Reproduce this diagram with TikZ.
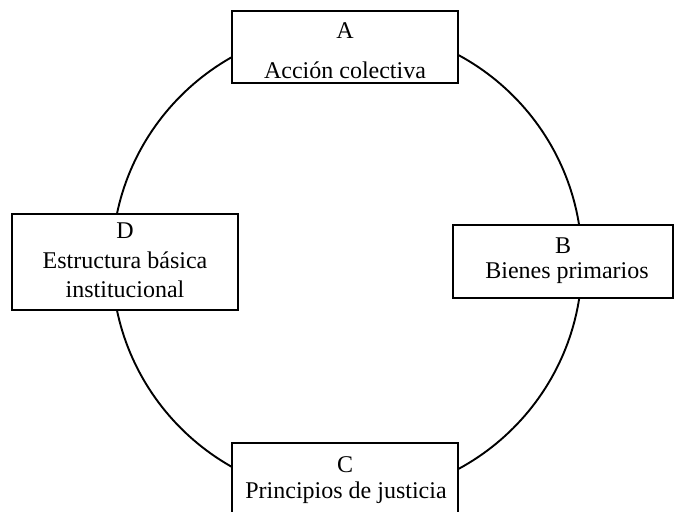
\documentclass[tikz,border=0pt]{standalone}
\usepackage{fontspec}
\setmainfont{Liberation Serif}
\begin{document}
\begin{tikzpicture}[x=1pt,y=-1pt,
  box/.style={draw, line width=2.8pt, fill=white, inner sep=0pt},
  lbl/.style={anchor=base, inner sep=0pt, font=\fontsize{24}{28}\selectfont}]
\useasboundingbox (0,0) rectangle (674,511);
\clip (0,0) rectangle (674,511);
\draw[line width=1.9pt] (347,262) circle [radius=235pt];
\node[box, minimum width=226pt, minimum height=72pt] (A) at (345,47) {};
\node[box, minimum width=220pt, minimum height=73pt] (B) at (563,261.5) {};
\node[box, minimum width=226pt, minimum height=74pt] (C) at (345,480) {};
\node[box, minimum width=226pt, minimum height=96pt] (D) at (125,262) {};
\node[lbl] (A1) at (345,38.5) {A};
\node[lbl] (A2) at (345,78) {Acción colectiva};
\node[lbl] (B1) at (563,253) {B};
\node[lbl] (B2) at (567,278) {Bienes primarios};
\node[lbl] (C1) at (345,472) {C};
\node[lbl] (C2) at (346,498) {Principios de justicia};
\node[lbl] (D1) at (125,238) {D};
\node[lbl] (D2) at (125,268) {Estructura básica};
\node[lbl] (D3) at (125,297) {institucional};
\end{tikzpicture}
\end{document}
